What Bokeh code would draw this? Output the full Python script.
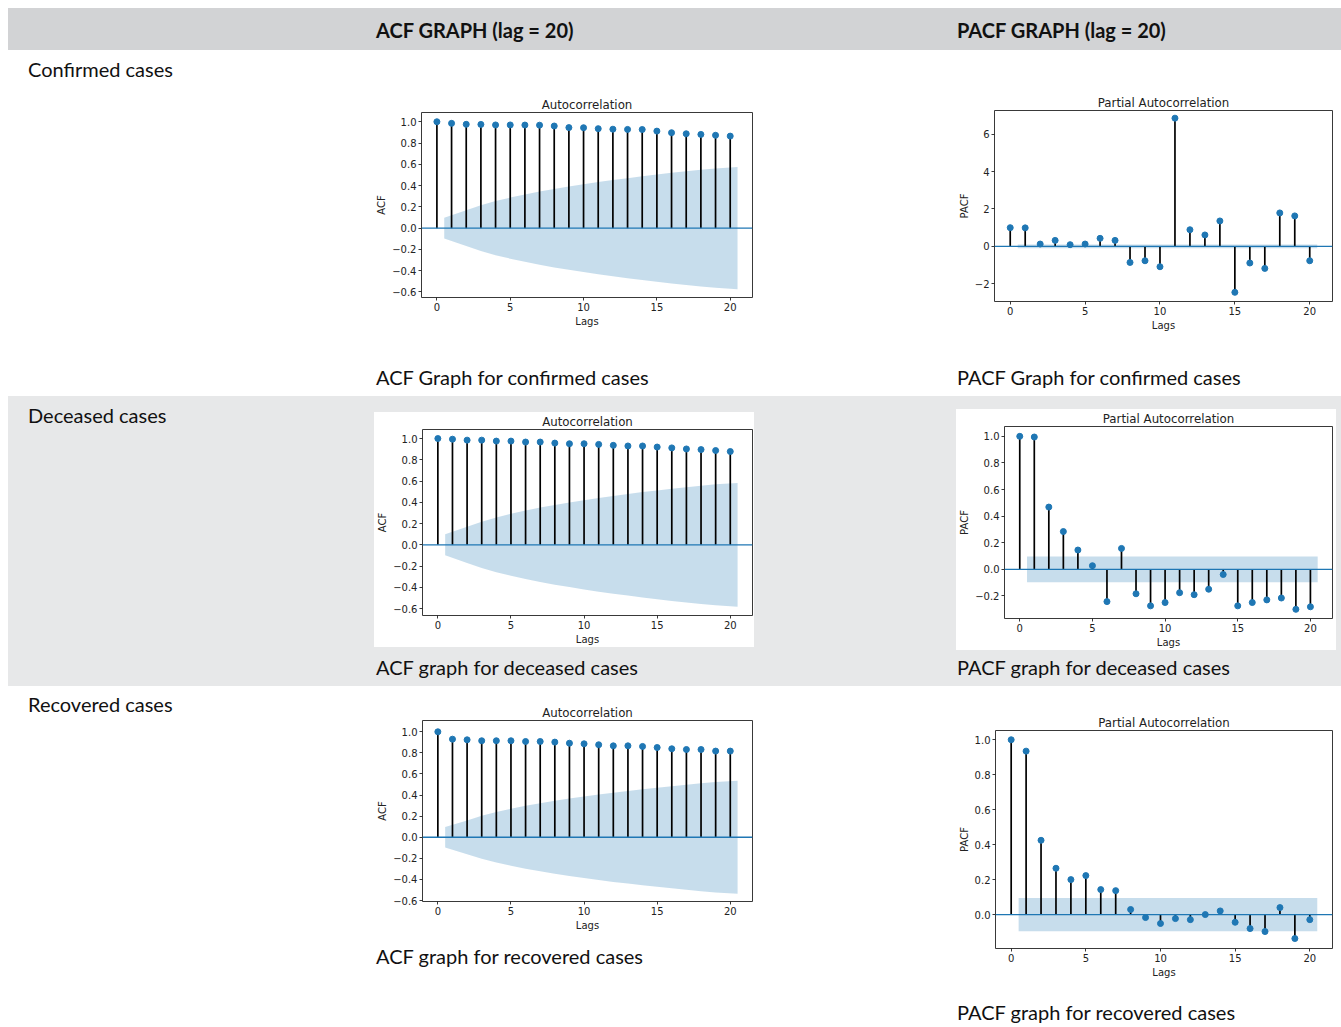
from bokeh.plotting import figure
from bokeh.layouts import column, row
from bokeh.models import Div, Span, FixedTicker, CustomJSTickFormatter
from bokeh.embed import file_html
from bokeh.resources import INLINE

# ---------------------------------------------------------------- data
lags = list(range(21))

acf_confirmed = [1.0, 0.985, 0.976, 0.975, 0.970, 0.970, 0.969, 0.968, 0.960, 0.945, 0.944,
                 0.935, 0.930, 0.928, 0.927, 0.912, 0.897, 0.887, 0.881, 0.873, 0.865]
acf_confirmed_conf = [0.098, 0.168, 0.215, 0.254, 0.287, 0.317, 0.344, 0.369, 0.392, 0.413,
                      0.434, 0.452, 0.470, 0.488, 0.504, 0.520, 0.534, 0.548, 0.561, 0.574]

acf_deceased = [1.0, 0.994, 0.985, 0.985, 0.976, 0.976, 0.967, 0.967, 0.957, 0.951, 0.951,
                0.945, 0.936, 0.930, 0.930, 0.920, 0.912, 0.902, 0.896, 0.887, 0.878]
acf_deceased_conf = [0.099, 0.170, 0.218, 0.258, 0.292, 0.322, 0.350, 0.375, 0.398, 0.420,
                     0.441, 0.460, 0.478, 0.496, 0.512, 0.528, 0.542, 0.556, 0.569, 0.582]

acf_recovered = [1.0, 0.930, 0.924, 0.915, 0.915, 0.915, 0.908, 0.908, 0.902, 0.892, 0.886,
                 0.877, 0.867, 0.867, 0.861, 0.851, 0.839, 0.832, 0.832, 0.817, 0.817]
acf_recovered_conf = [0.097, 0.160, 0.204, 0.239, 0.270, 0.298, 0.323, 0.346, 0.367, 0.387,
                      0.406, 0.423, 0.439, 0.455, 0.470, 0.484, 0.498, 0.511, 0.523, 0.535]

pacf_confirmed = [1.0, 0.99, 0.125, 0.32, 0.09, 0.125, 0.43, 0.32, -0.86, -0.77, -1.09,
                  6.86, 0.89, 0.61, 1.36, -2.46, -0.89, -1.18, 1.79, 1.63, -0.77]
pacf_confirmed_conf = 0.097

pacf_deceased = [1.0, 0.995, 0.468, 0.284, 0.145, 0.027, -0.243, 0.157, -0.184, -0.275, -0.25,
                 -0.176, -0.191, -0.15, -0.039, -0.275, -0.25, -0.23, -0.216, -0.301, -0.282]
pacf_deceased_conf = 0.097

pacf_recovered = [1.0, 0.935, 0.425, 0.265, 0.2, 0.223, 0.143, 0.137, 0.029, -0.017, -0.051,
                  -0.023, -0.029, 0.0, 0.021, -0.044, -0.08, -0.097, 0.04, -0.137, -0.029]
pacf_recovered_conf = 0.095

acf_ticks = [-0.6, -0.4, -0.2, 0.0, 0.2, 0.4, 0.6, 0.8, 1.0]
pacf_big_ticks = [-2, 0, 2, 4, 6]
pacf_ticks = [-0.2, 0.0, 0.2, 0.4, 0.6, 0.8, 1.0]
pacf_pos_ticks = [0.0, 0.2, 0.4, 0.6, 0.8, 1.0]
lag_ticks = [0, 5, 10, 15, 20]

row_labels = ["Confirmed cases", "Deceased cases", "Recovered cases"]
header_acf = "ACF GRAPH (lag = 20)"
header_pacf = "PACF GRAPH (lag = 20)"
captions_acf = ["ACF Graph for confirmed cases", "ACF graph for deceased cases",
                "ACF graph for recovered cases"]
captions_pacf = ["PACF Graph for confirmed cases", "PACF graph for deceased cases",
                 "PACF graph for recovered cases"]

# ---------------------------------------------------------------- style
HEADER_BG = "#d2d3d5"
BAND_BG = "#e7e8e9"
WHITE = "#ffffff"
BLUE = "#1f77b4"
INK = "#222222"
TABLE_FONT = "Lato"
PLOT_FONT = "DejaVu Sans"
TABLE_SIZE = 20


def blank(w, h, bg=WHITE):
    return Div(text=f'<div style="width:{w}px;height:{h}px;background:{bg};"></div>',
               width=w, height=h, margin=0)


def text_cell(text, w, h, left, cy, bg=WHITE, size=TABLE_SIZE, bold=False):
    lh = 24
    top = cy - lh // 2
    html = (f'<div style="width:{w}px;height:{h}px;background:{bg};box-sizing:border-box;'
            f'padding-left:{left}px;padding-top:{top}px;font-family:{TABLE_FONT};'
            f'font-size:{size}px;line-height:{lh}px;font-weight:{700 if bold else 400};'
            f'color:#111111;white-space:nowrap;overflow:hidden;">{text}</div>')
    return Div(text=html, width=w, height=h, margin=0)


def corr_plot(title, ylabel, values, conf, y_range, y_ticks, decimals,
              width, height, borders, bg):
    left, right, top, bottom = borders
    p = figure(width=width, height=height, x_range=(-1.05, 21.52), y_range=y_range,
               output_backend="svg", toolbar_location=None,
               min_border_left=left, min_border_right=right,
               min_border_top=top, min_border_bottom=bottom)
    p.border_fill_color = bg
    p.background_fill_color = WHITE
    p.outline_line_color = INK
    p.outline_line_width = 0.9
    p.grid.visible = False

    if isinstance(conf, (int, float)):
        conf = [conf] * (len(lags) - 1)
    # confidence band spans lag 1 .. last lag, widened by half a lag at each end
    band_x = [lags[1] - 0.5] + lags[2:-1] + [lags[-1] + 0.5]
    p.varea(x=band_x, y1=[-c for c in conf], y2=conf,
            fill_color=BLUE, fill_alpha=0.25)
    p.segment(x0=lags, y0=[0] * len(lags), x1=lags, y1=values,
              line_color="black", line_width=1.7)
    p.add_layout(Span(location=0, dimension="width", line_color=BLUE, line_width=1.3))
    p.scatter(x=lags, y=values, size=6, fill_color=BLUE, line_color=BLUE)

    p.title.text = title
    p.title.align = "center"
    p.title.text_font = PLOT_FONT
    p.title.text_font_size = "11.8px"
    p.title.text_font_style = "normal"
    p.title.text_color = INK
    p.title.standoff = 1

    p.xaxis.ticker = FixedTicker(ticks=lag_ticks)
    p.yaxis.ticker = FixedTicker(ticks=y_ticks)
    p.yaxis.formatter = CustomJSTickFormatter(args=dict(d=decimals), code="""
        const s = Math.abs(tick).toFixed(d);
        return (tick < -1e-9 ? "\u2212" : "") + s;
    """)
    p.xaxis.axis_label = "Lags"
    p.yaxis.axis_label = ylabel
    for ax in (p.xaxis, p.yaxis):
        ax.axis_line_color = None
        ax.major_tick_line_color = INK
        ax.major_tick_line_width = 0.9
        ax.major_tick_in = 0
        ax.major_tick_out = 3
        ax.minor_tick_line_color = None
        ax.major_label_text_font = PLOT_FONT
        ax.major_label_text_font_size = "10px"
        ax.major_label_text_color = INK
        ax.major_label_standoff = 2
        ax.axis_label_text_font = PLOT_FONT
        ax.axis_label_text_font_size = "10px"
        ax.axis_label_text_font_style = "normal"
        ax.axis_label_text_color = INK
        ax.axis_label_standoff = 2
    return p


# ---------------------------------------------------------------- charts
fig1 = corr_plot("Autocorrelation", "ACF", acf_confirmed, acf_confirmed_conf,
                 (-0.652, 1.087), acf_ticks, 1, 392, 247, (53, 8, 24, 38), WHITE)
fig2 = corr_plot("Partial Autocorrelation", "PACF", pacf_confirmed, pacf_confirmed_conf,
                 (-2.95, 7.27), pacf_big_ticks, 0, 392, 249, (45, 9, 24, 34), WHITE)
fig3 = corr_plot("Autocorrelation", "ACF", acf_deceased, acf_deceased_conf,
                 (-0.665, 1.085), acf_ticks, 1, 380, 235, (47, 2, 15, 28), WHITE)
fig4 = corr_plot("Partial Autocorrelation", "PACF", pacf_deceased, pacf_deceased_conf,
                 (-0.37, 1.074), pacf_ticks, 1, 380, 241, (46, 4, 15, 30), WHITE)
fig5 = corr_plot("Autocorrelation", "ACF", acf_recovered, acf_recovered_conf,
                 (-0.609, 1.107), acf_ticks, 1, 392, 235, (54, 8, 20, 34), WHITE)
fig6 = corr_plot("Partial Autocorrelation", "PACF", pacf_recovered, pacf_recovered_conf,
                 (-0.194, 1.053), pacf_pos_ticks, 1, 392, 277, (46, 9, 22, 37), WHITE)

# ---------------------------------------------------------------- table
header_html = (
    f'<div style="width:1333px;height:42px;background:{HEADER_BG};position:relative;'
    f'font-family:{TABLE_FONT};font-size:{TABLE_SIZE}px;font-weight:700;color:#111111;'
    f'white-space:nowrap;line-height:24px;">'
    f'<span style="position:absolute;left:368px;top:10px;">{header_acf}</span>'
    f'<span style="position:absolute;left:949px;top:10px;">{header_pacf}</span></div>'
)
header = Div(text=header_html, width=1333, height=42, margin=0)

row1 = row(
    text_cell(row_labels[0], 360, 346, 20, 19),
    column(blank(581, 38), row(fig1, blank(189, 247)),
           text_cell(captions_acf[0], 581, 61, 8, 42), spacing=0),
    column(blank(392, 36), fig2,
           text_cell(captions_pacf[0], 392, 61, 8, 42), spacing=0),
    spacing=0)

row2 = row(
    text_cell(row_labels[1], 360, 290, 20, 19, bg=BAND_BG),
    column(blank(581, 16, BAND_BG),
           row(blank(6, 235, BAND_BG), fig3, blank(195, 235, BAND_BG)),
           text_cell(captions_acf[1], 581, 39, 8, 20, bg=BAND_BG), spacing=0),
    column(blank(392, 13, BAND_BG),
           row(blank(7, 241, BAND_BG), fig4, blank(5, 241, BAND_BG)),
           text_cell(captions_pacf[1], 392, 36, 8, 17, bg=BAND_BG), spacing=0),
    spacing=0)

row3 = row(
    text_cell(row_labels[2], 360, 341, 20, 18),
    column(blank(581, 14), row(fig5, blank(189, 235)),
           text_cell(captions_acf[2], 581, 92, 8, 21), spacing=0),
    column(blank(392, 22), fig6,
           text_cell(captions_pacf[2], 392, 42, 8, 27), spacing=0),
    spacing=0)

body = column(header, row1, row2, row3, spacing=0)
page = column(blank(1341, 8), row(blank(8, 1019), body, spacing=0), spacing=0)

open("out.html", "w").write(file_html(page, INLINE, title="ACF and PACF graphs"))
